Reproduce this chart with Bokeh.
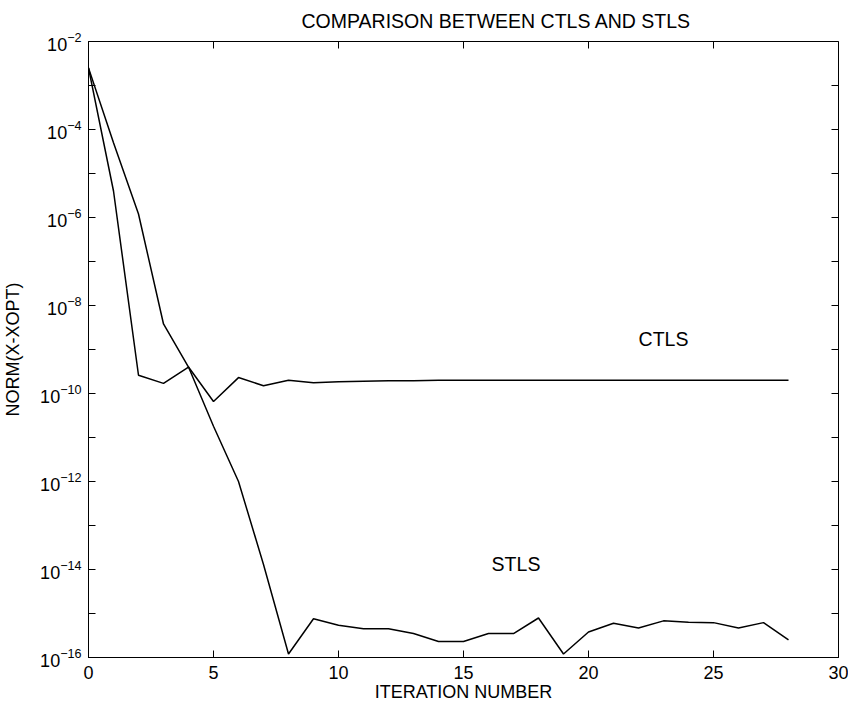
import math
from bokeh.plotting import figure
from bokeh.models import FixedTicker, Label
from bokeh.embed import file_html
from bokeh.resources import INLINE

# ---- data ----
iterations = list(range(29))
ctls = [2.5e-3, 4.0e-6, 2.6e-10, 1.7e-10, 4.0e-10, 6.6e-11, 2.3e-10, 1.5e-10,
        2.0e-10, 1.75e-10, 1.85e-10, 1.9e-10, 1.95e-10, 1.95e-10, 2.0e-10,
        2.0e-10, 2.0e-10, 2.0e-10, 2.0e-10, 2.0e-10, 2.0e-10, 2.0e-10,
        2.0e-10, 2.0e-10, 2.0e-10, 2.0e-10, 2.0e-10, 2.0e-10, 2.0e-10]
stls = [2.5e-3, 5.0e-5, 1.2e-6, 3.8e-9, 4.0e-10, 1.8e-11, 1.0e-12, 1.3e-14,
        1.2e-16, 7.6e-16, 5.4e-16, 4.5e-16, 4.5e-16, 3.5e-16, 2.3e-16,
        2.3e-16, 3.5e-16, 3.5e-16, 7.9e-16, 1.2e-16, 3.8e-16, 6.0e-16,
        4.7e-16, 6.8e-16, 6.3e-16, 6.2e-16, 4.7e-16, 6.2e-16, 2.5e-16]

x_ticks = [0, 5, 10, 15, 20, 25, 30]
y_major_ticks = [1e-2, 1e-4, 1e-6, 1e-8, 1e-10, 1e-12, 1e-14, 1e-16]
y_minor_ticks = [1e-3, 1e-5, 1e-7, 1e-9, 1e-11, 1e-13, 1e-15]

title_text = "COMPARISON BETWEEN CTLS AND STLS"
x_label = "ITERATION NUMBER"
y_label = "NORM(X-XOPT)"
label_texts = ["CTLS", "STLS"]
label_x = [23.0, 17.1]
label_y = [1.7e-9, 1.3e-14]

FONT = "Liberation Sans"
X_MIN, X_MAX = 0, 30
Y_MIN, Y_MAX = 1e-16, 1e-2

p = figure(width=848, height=707, y_axis_type="log",
           x_range=(X_MIN, X_MAX), y_range=(Y_MIN, Y_MAX),
           output_backend="svg", toolbar_location=None,
           title=title_text,
           min_border_left=87, min_border_right=10,
           min_border_top=41, min_border_bottom=50)

p.background_fill_color = "white"
p.border_fill_color = "white"
p.outline_line_color = "black"
p.outline_line_width = 1
p.grid.visible = False

p.title.align = "left"
p.title.offset = 213
p.title.vertical_align = "top"
p.title.standoff = 15
p.title.text_font = FONT
p.title.text_font_size = "19.5px"
p.title.text_font_style = "normal"
p.title.text_color = "black"

xa = p.xaxis[0]
xa.ticker = FixedTicker(ticks=x_ticks)
xa.axis_label = x_label
ya = p.yaxis[0]
ya.ticker = FixedTicker(ticks=y_major_ticks, minor_ticks=y_minor_ticks)
ya.axis_label = y_label

for ax in (xa, ya):
    ax.axis_line_color = "black"
    ax.major_tick_line_color = "black"
    ax.minor_tick_line_color = "black"
    ax.major_tick_in = 7
    ax.major_tick_out = 0
    ax.major_label_text_font = FONT
    ax.major_label_text_font_size = "18px"
    ax.major_label_text_color = "black"
    ax.axis_label_text_font = FONT
    ax.axis_label_text_font_size = "18px"
    ax.axis_label_text_font_style = "normal"
    ax.axis_label_text_color = "black"
xa.minor_tick_in = 0
xa.minor_tick_out = 0
ya.minor_tick_in = 7
ya.minor_tick_out = 0
xa.major_label_standoff = 8
xa.axis_label_standoff = 0
ya.major_label_standoff = 7
ya.axis_label_standoff = 14

# inward ticks on the top and right edges (markers centred on the frame edge,
# the outer half is clipped by the frame)
top_y = [Y_MAX] * len(x_ticks)
p.scatter(x_ticks, top_y, marker="dash", angle=math.pi / 2, size=14,
          line_color="black", line_width=1)
right_ticks = y_major_ticks + y_minor_ticks
right_x = [X_MAX] * len(right_ticks)
p.scatter(right_x, right_ticks, marker="dash", size=14,
          line_color="black", line_width=1)

p.line(iterations, ctls, line_color="black", line_width=1.5)
p.line(iterations, stls, line_color="black", line_width=1.5)

for t, lx, ly in zip(label_texts, label_x, label_y):
    p.add_layout(Label(x=lx, y=ly, text=t, text_align="center",
                       text_baseline="middle", text_font=FONT,
                       text_font_size="19.5px", text_color="black"))

open("out.html", "w").write(file_html(p, INLINE))
